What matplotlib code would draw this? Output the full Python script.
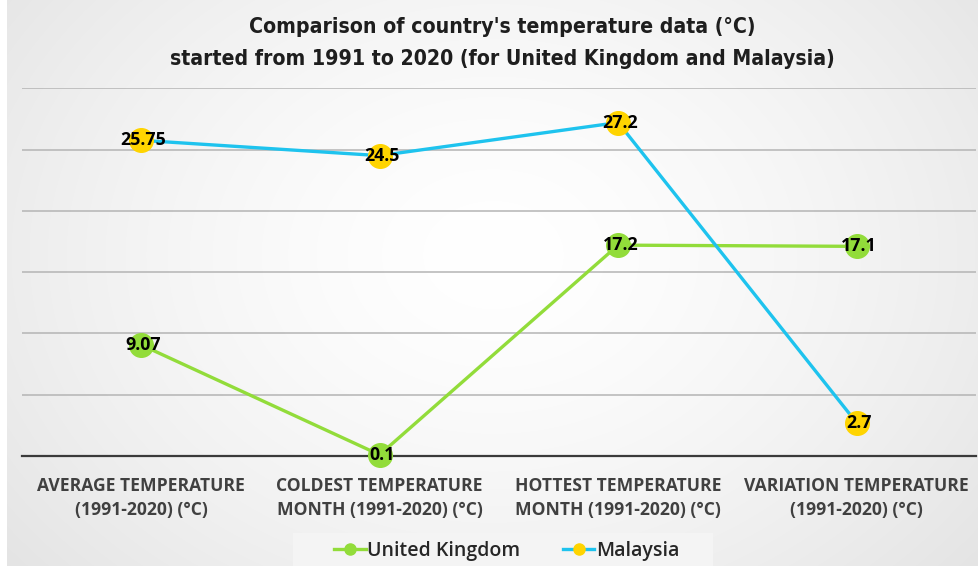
import numpy as np
import matplotlib
matplotlib.use("Agg")
import matplotlib.pyplot as plt
from matplotlib.lines import Line2D
from matplotlib.patches import Rectangle

categories = [
    "AVERAGE TEMPERATURE\n(1991-2020) (°C)",
    "COLDEST TEMPERATURE\nMONTH (1991-2020) (°C)",
    "HOTTEST TEMPERATURE\nMONTH (1991-2020) (°C)",
    "VARIATION TEMPERATURE\n(1991-2020) (°C)",
]
uk_values = [9.07, 0.1, 17.2, 17.1]
my_values = [25.75, 24.5, 27.2, 2.7]
uk_labels = ["9.07", "0.1", "17.2", "17.1"]
my_labels = ["25.75", "24.5", "27.2", "2.7"]

title_lines = ["Comparison of country's temperature data (°C)",
               "started from 1991 to 2020 (for United Kingdom and Malaysia)"]

W, H = 979, 566
fig = plt.figure(figsize=(W / 100, H / 100), dpi=100)
fig.patch.set_facecolor("white")

# soft radial background
bg = fig.add_axes([7 / W, 0, 1 - 7 / W, 1], zorder=0)
yy, xx = np.mgrid[0:H, 0:W - 7]
cx, cy = (W - 7) * 0.5, H * 0.45
r = np.sqrt(((xx - cx) / (W * 0.6)) ** 2 + ((yy - cy) / (H * 0.8)) ** 2)
shade = 1.0 - 0.095 * np.clip(r, 0, 1.2) ** 1.5
bg.imshow(np.dstack([shade] * 3), aspect="auto", extent=[0, 1, 0, 1])
bg.set_axis_off()

ax = fig.add_axes([21.7 / W, 110 / H, (976 - 21.7) / W, (456.3 - 88.5) / H], zorder=1)
ax.patch.set_alpha(0)
x = np.arange(len(categories))
ax.set_xlim(-0.5, len(categories) - 0.5)
ax.set_ylim(0, 30)
ax.set_yticks([5, 10, 15, 20, 25, 30])
ax.grid(axis="y", color="#b4b4b4", linewidth=1.1)
ax.set_axisbelow(True)
for s in ["top", "right", "left"]:
    ax.spines[s].set_visible(False)
ax.spines["bottom"].set_color("#3a3a3a")
ax.spines["bottom"].set_linewidth(1.6)
ax.tick_params(axis="y", length=0, labelleft=False)
ax.tick_params(axis="x", length=0, pad=15)
ax.set_xticks(x)
ax.set_xticklabels(categories, fontsize=12.6, fontweight="bold",
                   color="#404040", family="Open Sans", linespacing=1.45)

green = "#92DC3A"
cyan = "#1EC3EE"
yellow = "#FFD400"

ax.plot(x, uk_values, color=green, lw=2.4, marker="o", ms=17,
        mfc=green, mec=green, clip_on=False, zorder=3)
ax.plot(x, my_values, color=cyan, lw=2.4, marker="o", ms=17,
        mfc=yellow, mec=yellow, clip_on=False, zorder=3)

for xi, v, t in zip(x, uk_values, uk_labels):
    ax.text(xi + 0.01, v, t, ha="center", va="center", fontsize=12.8,
            fontweight="bold", family="Open Sans", color="black", zorder=4)
for xi, v, t in zip(x, my_values, my_labels):
    ax.text(xi + 0.01, v, t, ha="center", va="center", fontsize=12.8,
            fontweight="bold", family="Open Sans", color="black", zorder=4)

for line, ypx in zip(title_lines, [25, 57]):
    fig.text(0.513, 1 - ypx / H, line, ha="center", va="center_baseline",
             fontsize=15.2, fontweight="bold", family="DejaVu Sans",
             fontstretch="condensed", color="#1e1e1e")

# legend panel
fig.patches.append(Rectangle((293 / W, 0), (713 - 293) / W, (H - 533) / H,
                             transform=fig.transFigure, facecolor="#f4f4f4",
                             edgecolor="none", zorder=1))
handles = [
    Line2D([], [], color=green, lw=2.4, marker="o", ms=8, mfc=green, mec=green),
    Line2D([], [], color=cyan, lw=2.4, marker="o", ms=8, mfc=yellow, mec=yellow),
]
leg = fig.legend(handles, ["United Kingdom", "Malaysia"], loc="center",
                 bbox_to_anchor=(0.518, (H - 551) / H), ncol=2, frameon=False,
                 handlelength=1.6, handletextpad=0.1, columnspacing=2.2,
                 prop={"family": "Open Sans", "weight": "semibold", "size": 14})
leg.set_zorder(2)
for t in leg.get_texts():
    t.set_color("#262626")

fig.savefig("out.png", dpi=100)
